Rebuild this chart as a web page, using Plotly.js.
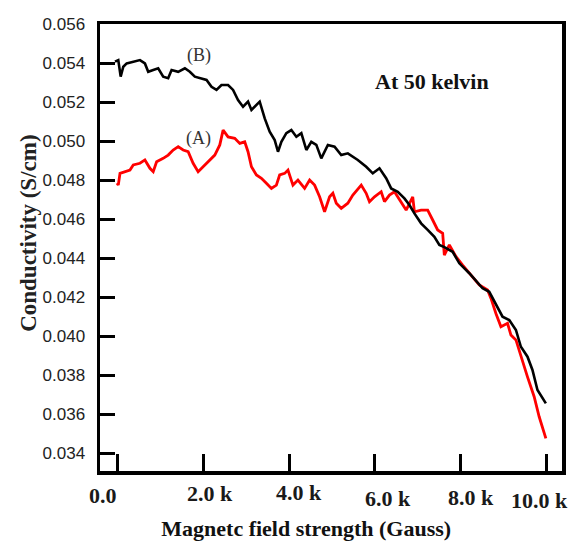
<!DOCTYPE html>
<html>
<head>
<meta charset="utf-8">
<script src="https://cdn.plot.ly/plotly-3.0.1.min.js"></script>
<style>html,body{margin:0;padding:0;background:#fff;}#chart{width:571px;height:541px;}</style>
</head>
<body>
<div id="chart"></div>
<script>
// Curve (B) — black
const fieldB = [-70,7,63,124,203,357,513,629,706,823,939,1056,1172,1252,1406,1562,1678,1795,1911,2068,2184,2301,2417,2571,2688,2804,2921,3037,3117,3233,3310,3427,3543,3660,3737,3816,3932,4049,4166,4282,4399,4515,4632,4748,4902,5058,5214,5368,5601,5797,5951,6107,6263,6380,6534,6690,6807,6923,7079,7233,7389,7506,7622,7816,7972,8205,8399,8515,8671,8827,8981,9138,9294,9410,9564,9680,9797,9993];
const condB = [0.05407,0.05415,0.05330,0.05381,0.05398,0.05407,0.05415,0.05398,0.05355,0.05364,0.05373,0.05330,0.05322,0.05364,0.05355,0.05373,0.05355,0.05330,0.05322,0.05313,0.05278,0.05262,0.05287,0.05287,0.05262,0.05210,0.05176,0.05202,0.05159,0.05185,0.05202,0.05116,0.05048,0.05005,0.04945,0.04996,0.05040,0.05056,0.05022,0.05040,0.04954,0.04996,0.04980,0.04911,0.04980,0.04971,0.04928,0.04937,0.04903,0.04868,0.04834,0.04860,0.04809,0.04757,0.04740,0.04706,0.04672,0.04629,0.04578,0.04544,0.04509,0.04467,0.04456,0.04432,0.04373,0.04322,0.04270,0.04245,0.04227,0.04159,0.04099,0.04082,0.04031,0.03945,0.03894,0.03826,0.03723,0.03655];

// Curve (A) — red
const fieldA = [-23,7,47,163,280,357,513,629,746,823,902,1056,1172,1289,1406,1522,1639,1755,1872,1988,2105,2261,2378,2455,2571,2727,2844,2960,3037,3117,3233,3350,3466,3583,3699,3776,3893,3970,4086,4203,4359,4476,4592,4709,4825,4942,5019,5098,5214,5368,5485,5681,5797,5874,5991,6147,6224,6340,6457,6573,6730,6884,6923,7079,7233,7350,7466,7583,7622,7739,7895,8049,8245,8438,8632,8711,8827,8944,9098,9177,9294,9410,9564,9720,9837,9993];
const condA = [0.04784,0.04774,0.04834,0.04843,0.04851,0.04877,0.04886,0.04903,0.04860,0.04843,0.04894,0.04911,0.04928,0.04954,0.04971,0.04954,0.04945,0.04886,0.04843,0.04868,0.04894,0.04928,0.04980,0.05056,0.05021,0.05014,0.04988,0.04996,0.04945,0.04868,0.04826,0.04809,0.04783,0.04757,0.04774,0.04826,0.04834,0.04851,0.04774,0.04800,0.04757,0.04800,0.04774,0.04714,0.04637,0.04714,0.04732,0.04681,0.04655,0.04681,0.04723,0.04774,0.04732,0.04689,0.04714,0.04740,0.04689,0.04723,0.04740,0.04697,0.04646,0.04714,0.04637,0.04646,0.04646,0.04595,0.04544,0.04527,0.04415,0.04467,0.04407,0.04364,0.04313,0.04262,0.04236,0.04193,0.04116,0.04048,0.04065,0.04005,0.03980,0.03894,0.03791,0.03689,0.03586,0.03475];

const xTickVals = [0,2000,4000,6000,8000,10000];
const xTickText = ['0.0','2.0 k','4.0 k','6.0 k','8.0 k','10.0 k'];
const yTickVals = [0.034,0.036,0.038,0.040,0.042,0.044,0.046,0.048,0.050,0.052,0.054,0.056];

// label placement (hand-set offsets, as in the original figure)
const xLabelShiftX = [-15, 6, 10, 13, 10, -7];
const xLabelShiftY = [-24, -22, -21, -27, -26, -29];

const serif = '"Liberation Serif", "Times New Roman", serif';
const sans = '"Liberation Sans", Arial, sans-serif';

const traces = [
  {x: fieldA, y: condA, mode: 'lines', line: {color: '#ff0000', width: 2.8}, hoverinfo: 'skip'},
  {x: fieldB, y: condB, mode: 'lines', line: {color: '#000000', width: 2.6}, hoverinfo: 'skip'}
];

const tickAnnotations = xTickVals.map((v, i) => ({
  xref: 'x', yref: 'paper', x: v, y: 0,
  xanchor: 'center', yanchor: 'middle',
  xshift: xLabelShiftX[i], yshift: xLabelShiftY[i],
  text: '<b>' + xTickText[i] + '</b>', showarrow: false,
  font: {family: serif, size: 22, color: '#1a1a1a'}
}));

const layout = {
  width: 571, height: 541,
  margin: {l: 100, r: 9, t: 24, b: 70},
  paper_bgcolor: '#ffffff', plot_bgcolor: '#ffffff',
  showlegend: false,
  xaxis: {
    range: [-420, 10370],
    tickvals: xTickVals, ticktext: xTickText, showticklabels: false,
    ticks: 'inside', ticklen: 17, tickwidth: 3, tickcolor: '#000',
    showline: true, linewidth: 3.5, linecolor: '#000', mirror: true,
    showgrid: false, zeroline: false,
    title: {text: '<b>Magnetc field strength (Gauss)</b>' + '&nbsp;'.repeat(9), font: {family: serif, size: 22, color: '#111'}, standoff: 53}
  },
  yaxis: {
    range: [0.03308, 0.056],
    tickvals: yTickVals, tickformat: '.3f',
    ticks: 'inside', ticklen: 15, tickwidth: 3, tickcolor: '#000',
    showline: true, linewidth: 3.5, linecolor: '#000', mirror: true,
    showgrid: false, zeroline: false,
    tickfont: {family: sans, size: 17, color: '#222'},
    ticklabelstandoff: 8,
    title: {text: '&nbsp;'.repeat(5) + '<b>Conductivity (S/cm)</b>', font: {family: serif, size: 23, color: '#222'}, standoff: 0}
  },
  annotations: tickAnnotations.concat([
    {xref: 'paper', yref: 'paper', x: 0.719, y: 0.872, xanchor: 'center', yanchor: 'middle',
     text: '<b>At 50 kelvin</b>', showarrow: false,
     font: {family: serif, size: 22, color: '#111'}},
    {xref: 'x', yref: 'y', x: 1888, y: 0.05441, xanchor: 'center', yanchor: 'middle', text: '(B)', showarrow: false,
     font: {family: serif, size: 18, color: '#333'}},
    {xref: 'x', yref: 'y', x: 1888, y: 0.05015, xanchor: 'center', yanchor: 'middle', text: '(A)', showarrow: false,
     font: {family: serif, size: 18, color: '#333'}}
  ])
};

Plotly.newPlot('chart', traces, layout, {staticPlot: true, displayModeBar: false});
</script>
</body>
</html>
